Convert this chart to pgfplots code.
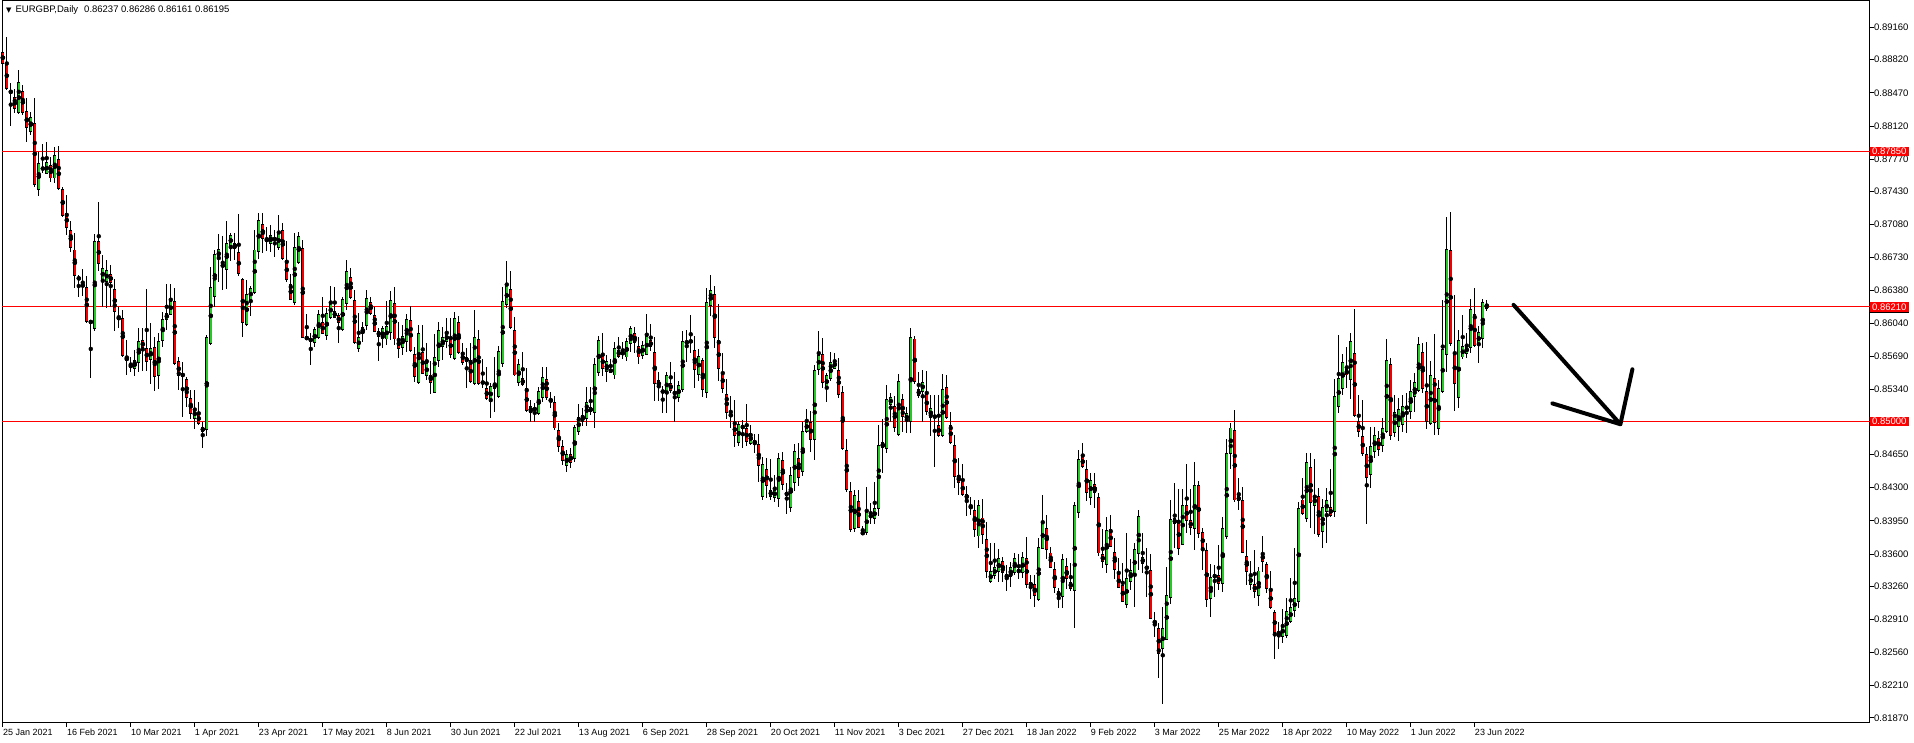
\documentclass[border=0pt]{standalone}
\usepackage{pgfplots}
\pgfplotsset{compat=1.18}
\usepackage{pgfplotstable}
\usepackage{fontspec}
\setmainfont{Liberation Sans}
\newfontfamily\symfont{DejaVu Sans}
\definecolor{bull}{RGB}{40,200,40}
\definecolor{bear}{RGB}{240,0,0}
\definecolor{lvl}{RGB}{255,0,0}

\pgfplotstableread{
i o h l c
0 0.8890 0.8900 0.8868 0.8878
1 0.8878 0.8906 0.8850 0.8852
2 0.8848 0.8857 0.8812 0.8848
3 0.8842 0.8851 0.8826 0.8830
4 0.8826 0.8871 0.8825 0.8858
5 0.8848 0.8855 0.8824 0.8826
6 0.8827 0.8841 0.8795 0.8810
7 0.8806 0.8827 0.8802 0.8821
8 0.8815 0.8841 0.8747 0.8750
9 0.8745 0.8784 0.8738 0.8772
10 0.8766 0.8793 0.8762 0.8768
11 0.8762 0.8795 0.8761 0.8773
12 0.8770 0.8779 0.8753 0.8757
13 0.8757 0.8790 0.8752 0.8781
14 0.8777 0.8791 0.8744 0.8746
15 0.8745 0.8747 0.8716 0.8717
16 0.8720 0.8739 0.8697 0.8705
17 0.8702 0.8712 0.8679 0.8684
18 0.8681 0.8699 0.8641 0.8654
19 0.8652 0.8655 0.8631 0.8650
20 0.8642 0.8661 0.8632 0.8645
21 0.8641 0.8653 0.8604 0.8605
22 0.8605 0.8607 0.8546 0.8605
23 0.8598 0.8698 0.8595 0.8690
24 0.8690 0.8732 0.8659 0.8667
25 0.8650 0.8676 0.8621 0.8661
26 0.8648 0.8670 0.8620 0.8659
27 0.8655 0.8665 0.8621 0.8647
28 0.8639 0.8650 0.8595 0.8616
29 0.8610 0.8621 0.8599 0.8608
30 0.8609 0.8618 0.8568 0.8570
31 0.8564 0.8586 0.8549 0.8568
32 0.8558 0.8568 0.8552 0.8559
33 0.8556 0.8575 0.8548 0.8564
34 0.8562 0.8599 0.8552 0.8584
35 0.8585 0.8599 0.8553 0.8578
36 0.8577 0.8640 0.8553 0.8563
37 0.8565 0.8604 0.8540 0.8577
38 0.8578 0.8589 0.8532 0.8547
39 0.8548 0.8593 0.8534 0.8584
40 0.8585 0.8616 0.8579 0.8608
41 0.8608 0.8645 0.8597 0.8614
42 0.8613 0.8645 0.8612 0.8627
43 0.8627 0.8641 0.8560 0.8561
44 0.8563 0.8568 0.8533 0.8548
45 0.8551 0.8563 0.8505 0.8547
46 0.8544 0.8547 0.8515 0.8525
47 0.8524 0.8533 0.8502 0.8508
48 0.8503 0.8533 0.8492 0.8513
49 0.8508 0.8521 0.8496 0.8498
50 0.8489 0.8499 0.8472 0.8494
51 0.8491 0.8591 0.8485 0.8589
52 0.8582 0.8663 0.8581 0.8641
53 0.8632 0.8681 0.8621 0.8676
54 0.8672 0.8698 0.8647 0.8682
55 0.8665 0.8696 0.8639 0.8664
56 0.8660 0.8712 0.8640 0.8688
57 0.8686 0.8699 0.8669 0.8696
58 0.8688 0.8699 0.8670 0.8683
59 0.8678 0.8719 0.8654 0.8656
60 0.8650 0.8651 0.8589 0.8604
61 0.8602 0.8649 0.8601 0.8634
62 0.8629 0.8643 0.8611 0.8640
63 0.8636 0.8702 0.8635 0.8681
64 0.8679 0.8720 0.8672 0.8712
65 0.8708 0.8720 0.8678 0.8693
66 0.8690 0.8705 0.8680 0.8693
67 0.8688 0.8707 0.8679 0.8696
68 0.8692 0.8702 0.8674 0.8693
69 0.8684 0.8718 0.8681 0.8698
70 0.8702 0.8710 0.8670 0.8672
71 0.8670 0.8690 0.8647 0.8650
72 0.8645 0.8656 0.8628 0.8629
73 0.8626 0.8699 0.8623 0.8684
74 0.8668 0.8700 0.8666 0.8695
75 0.8683 0.8692 0.8588 0.8589
76 0.8587 0.8613 0.8586 0.8589
77 0.8585 0.8593 0.8560 0.8587
78 0.8583 0.8600 0.8579 0.8597
79 0.8589 0.8618 0.8587 0.8613
80 0.8604 0.8631 0.8592 0.8593
81 0.8591 0.8620 0.8586 0.8614
82 0.8610 0.8643 0.8608 0.8625
83 0.8610 0.8642 0.8609 0.8616
84 0.8612 0.8614 0.8583 0.8604
85 0.8597 0.8631 0.8595 0.8629
86 0.8624 0.8670 0.8618 0.8658
87 0.8652 0.8662 0.8629 0.8631
88 0.8628 0.8639 0.8582 0.8583
89 0.8577 0.8614 0.8573 0.8589
90 0.8593 0.8605 0.8584 0.8599
91 0.8601 0.8639 0.8597 0.8630
92 0.8626 0.8631 0.8612 0.8614
93 0.8612 0.8621 0.8594 0.8595
94 0.8595 0.8599 0.8564 0.8590
95 0.8587 0.8601 0.8578 0.8598
96 0.8587 0.8627 0.8581 0.8600
97 0.8594 0.8638 0.8586 0.8628
98 0.8624 0.8642 0.8581 0.8587
99 0.8587 0.8605 0.8567 0.8577
100 0.8578 0.8602 0.8570 0.8590
101 0.8584 0.8613 0.8573 0.8608
102 0.8607 0.8622 0.8573 0.8575
103 0.8571 0.8579 0.8542 0.8547
104 0.8541 0.8602 0.8540 0.8593
105 0.8573 0.8602 0.8550 0.8551
106 0.8548 0.8583 0.8544 0.8561
107 0.8549 0.8564 0.8529 0.8541
108 0.8531 0.8592 0.8530 0.8567
109 0.8564 0.8605 0.8557 0.8596
110 0.8579 0.8600 0.8565 0.8589
111 0.8584 0.8609 0.8578 0.8593
112 0.8589 0.8609 0.8567 0.8571
113 0.8566 0.8616 0.8565 0.8609
114 0.8604 0.8611 0.8571 0.8573
115 0.8573 0.8583 0.8560 0.8562
116 0.8563 0.8577 0.8535 0.8567
117 0.8564 0.8583 0.8541 0.8542
118 0.8540 0.8618 0.8538 0.8589
119 0.8586 0.8597 0.8538 0.8540
120 0.8541 0.8566 0.8535 0.8541
121 0.8535 0.8557 0.8523 0.8524
122 0.8521 0.8541 0.8504 0.8537
123 0.8535 0.8568 0.8510 0.8540
124 0.8526 0.8580 0.8525 0.8574
125 0.8561 0.8642 0.8557 0.8627
126 0.8623 0.8669 0.8620 0.8643
127 0.8639 0.8659 0.8598 0.8599
128 0.8596 0.8610 0.8548 0.8549
129 0.8541 0.8566 0.8537 0.8560
130 0.8545 0.8573 0.8537 0.8539
131 0.8535 0.8556 0.8510 0.8511
132 0.8509 0.8523 0.8499 0.8516
133 0.8514 0.8519 0.8499 0.8512
134 0.8508 0.8536 0.8507 0.8532
135 0.8525 0.8557 0.8521 0.8546
136 0.8544 0.8557 0.8523 0.8525
137 0.8521 0.8531 0.8514 0.8523
138 0.8520 0.8527 0.8491 0.8493
139 0.8490 0.8498 0.8468 0.8473
140 0.8473 0.8480 0.8454 0.8459
141 0.8453 0.8470 0.8447 0.8465
142 0.8465 0.8472 0.8451 0.8457
143 0.8461 0.8496 0.8457 0.8494
144 0.8489 0.8518 0.8486 0.8504
145 0.8500 0.8514 0.8495 0.8506
146 0.8503 0.8536 0.8495 0.8520
147 0.8515 0.8536 0.8507 0.8510
148 0.8509 0.8567 0.8493 0.8560
149 0.8552 0.8590 0.8548 0.8585
150 0.8570 0.8593 0.8548 0.8556
151 0.8553 0.8570 0.8542 0.8563
152 0.8555 0.8566 0.8551 0.8552
153 0.8549 0.8584 0.8545 0.8577
154 0.8575 0.8589 0.8567 0.8569
155 0.8572 0.8584 0.8566 0.8572
156 0.8568 0.8588 0.8564 0.8584
157 0.8582 0.8601 0.8573 0.8598
158 0.8593 0.8600 0.8572 0.8583
159 0.8579 0.8589 0.8561 0.8568
160 0.8570 0.8585 0.8566 0.8580
161 0.8571 0.8613 0.8570 0.8590
162 0.8585 0.8603 0.8574 0.8579
163 0.8573 0.8589 0.8522 0.8540
164 0.8543 0.8552 0.8522 0.8537
165 0.8533 0.8537 0.8509 0.8530
166 0.8529 0.8552 0.8509 0.8548
167 0.8540 0.8563 0.8530 0.8533
168 0.8531 0.8552 0.8499 0.8529
169 0.8525 0.8543 0.8520 0.8538
170 0.8534 0.8595 0.8531 0.8584
171 0.8584 0.8596 0.8563 0.8583
172 0.8584 0.8612 0.8572 0.8585
173 0.8575 0.8590 0.8535 0.8555
174 0.8550 0.8576 0.8543 0.8569
175 0.8564 0.8567 0.8526 0.8534
176 0.8531 0.8641 0.8525 0.8626
177 0.8622 0.8655 0.8611 0.8638
178 0.8634 0.8643 0.8578 0.8589
179 0.8585 0.8624 0.8543 0.8556
180 0.8551 0.8572 0.8530 0.8535
181 0.8528 0.8545 0.8502 0.8509
182 0.8507 0.8527 0.8493 0.8506
183 0.8498 0.8523 0.8473 0.8485
184 0.8478 0.8500 0.8474 0.8497
185 0.8492 0.8501 0.8472 0.8496
186 0.8492 0.8518 0.8474 0.8479
187 0.8477 0.8496 0.8475 0.8487
188 0.8476 0.8487 0.8467 0.8480
189 0.8476 0.8487 0.8436 0.8453
190 0.8421 0.8462 0.8417 0.8454
191 0.8449 0.8461 0.8419 0.8432
192 0.8421 0.8460 0.8417 0.8427
193 0.8420 0.8443 0.8415 0.8427
194 0.8419 0.8467 0.8410 0.8461
195 0.8459 0.8468 0.8428 0.8433
196 0.8425 0.8435 0.8402 0.8422
197 0.8409 0.8452 0.8404 0.8443
198 0.8435 0.8476 0.8427 0.8468
199 0.8461 0.8477 0.8432 0.8441
200 0.8447 0.8499 0.8442 0.8489
201 0.8489 0.8513 0.8488 0.8500
202 0.8499 0.8511 0.8468 0.8481
203 0.8481 0.8560 0.8459 0.8554
204 0.8555 0.8595 0.8549 0.8570
205 0.8571 0.8588 0.8535 0.8541
206 0.8536 0.8551 0.8520 0.8548
207 0.8545 0.8573 0.8543 0.8562
208 0.8556 0.8572 0.8555 0.8564
209 0.8554 0.8567 0.8525 0.8528
210 0.8531 0.8537 0.8470 0.8471
211 0.8469 0.8481 0.8425 0.8428
212 0.8426 0.8436 0.8383 0.8386
213 0.8387 0.8428 0.8383 0.8422
214 0.8415 0.8428 0.8387 0.8388
215 0.8383 0.8390 0.8380 0.8381
216 0.8383 0.8431 0.8380 0.8405
217 0.8399 0.8414 0.8392 0.8401
218 0.8397 0.8436 0.8392 0.8408
219 0.8408 0.8496 0.8400 0.8475
220 0.8472 0.8503 0.8446 0.8478
221 0.8471 0.8538 0.8467 0.8523
222 0.8518 0.8530 0.8499 0.8525
223 0.8516 0.8527 0.8489 0.8494
224 0.8486 0.8550 0.8485 0.8542
225 0.8523 0.8529 0.8489 0.8505
226 0.8501 0.8515 0.8488 0.8508
227 0.8500 0.8599 0.8488 0.8589
228 0.8587 0.8590 0.8540 0.8542
229 0.8534 0.8552 0.8525 0.8527
230 0.8532 0.8554 0.8499 0.8541
231 0.8529 0.8553 0.8507 0.8510
232 0.8504 0.8528 0.8485 0.8514
233 0.8506 0.8528 0.8452 0.8504
234 0.8496 0.8528 0.8484 0.8485
235 0.8485 0.8550 0.8483 0.8534
236 0.8536 0.8549 0.8503 0.8504
237 0.8496 0.8510 0.8476 0.8478
238 0.8475 0.8486 0.8430 0.8442
239 0.8443 0.8461 0.8422 0.8435
240 0.8436 0.8455 0.8421 0.8423
241 0.8423 0.8432 0.8400 0.8418
242 0.8410 0.8420 0.8401 0.8409
243 0.8406 0.8417 0.8378 0.8386
244 0.8379 0.8417 0.8366 0.8411
245 0.8398 0.8418 0.8371 0.8381
246 0.8375 0.8394 0.8335 0.8341
247 0.8331 0.8372 0.8329 0.8341
248 0.8337 0.8372 0.8334 0.8346
249 0.8341 0.8365 0.8330 0.8355
250 0.8352 0.8357 0.8330 0.8340
251 0.8338 0.8348 0.8321 0.8335
252 0.8336 0.8352 0.8325 0.8346
253 0.8340 0.8361 0.8338 0.8355
254 0.8344 0.8360 0.8334 0.8340
255 0.8340 0.8362 0.8335 0.8356
256 0.8355 0.8378 0.8324 0.8328
257 0.8326 0.8338 0.8312 0.8330
258 0.8328 0.8338 0.8304 0.8316
259 0.8312 0.8377 0.8310 0.8367
260 0.8366 0.8422 0.8365 0.8393
261 0.8387 0.8401 0.8355 0.8365
262 0.8361 0.8367 0.8345 0.8346
263 0.8344 0.8352 0.8319 0.8325
264 0.8320 0.8324 0.8303 0.8315
265 0.8315 0.8360 0.8303 0.8354
266 0.8347 0.8356 0.8323 0.8334
267 0.8330 0.8350 0.8321 0.8324
268 0.8321 0.8415 0.8282 0.8411
269 0.8404 0.8470 0.8398 0.8460
270 0.8463 0.8477 0.8451 0.8452
271 0.8449 0.8459 0.8416 0.8425
272 0.8420 0.8446 0.8412 0.8438
273 0.8433 0.8446 0.8409 0.8425
274 0.8420 0.8424 0.8358 0.8361
275 0.8359 0.8386 0.8345 0.8352
276 0.8349 0.8399 0.8340 0.8385
277 0.8386 0.8401 0.8367 0.8368
278 0.8362 0.8377 0.8334 0.8344
279 0.8338 0.8356 0.8324 0.8325
280 0.8327 0.8350 0.8309 0.8310
281 0.8307 0.8382 0.8303 0.8334
282 0.8331 0.8355 0.8322 0.8343
283 0.8337 0.8372 0.8304 0.8365
284 0.8360 0.8406 0.8343 0.8400
285 0.8350 0.8382 0.8340 0.8356
286 0.8346 0.8366 0.8315 0.8345
287 0.8343 0.8360 0.8291 0.8292
288 0.8289 0.8299 0.8272 0.8287
289 0.8281 0.8287 0.8229 0.8255
290 0.8260 0.8304 0.8202 0.8281
291 0.8270 0.8346 0.8269 0.8316
292 0.8314 0.8417 0.8307 0.8396
293 0.8392 0.8435 0.8366 0.8397
294 0.8395 0.8429 0.8359 0.8366
295 0.8370 0.8429 0.8369 0.8411
296 0.8411 0.8455 0.8382 0.8395
297 0.8395 0.8429 0.8380 0.8388
298 0.8387 0.8457 0.8364 0.8432
299 0.8432 0.8437 0.8377 0.8382
300 0.8383 0.8387 0.8343 0.8365
301 0.8364 0.8372 0.8304 0.8312
302 0.8313 0.8349 0.8293 0.8335
303 0.8335 0.8348 0.8315 0.8338
304 0.8337 0.8369 0.8322 0.8329
305 0.8329 0.8399 0.8320 0.8387
306 0.8378 0.8481 0.8376 0.8466
307 0.8466 0.8498 0.8450 0.8493
308 0.8490 0.8512 0.8415 0.8417
309 0.8416 0.8440 0.8406 0.8421
310 0.8416 0.8431 0.8361 0.8362
311 0.8357 0.8375 0.8327 0.8341
312 0.8328 0.8353 0.8322 0.8336
313 0.8328 0.8364 0.8314 0.8320
314 0.8316 0.8346 0.8305 0.8342
315 0.8361 0.8379 0.8341 0.8352
316 0.8349 0.8352 0.8319 0.8324
317 0.8323 0.8342 0.8302 0.8303
318 0.8298 0.8301 0.8249 0.8277
319 0.8277 0.8288 0.8260 0.8276
320 0.8273 0.8302 0.8266 0.8284
321 0.8274 0.8313 0.8271 0.8299
322 0.8289 0.8335 0.8287 0.8303
323 0.8300 0.8366 0.8293 0.8313
324 0.8310 0.8415 0.8303 0.8408
325 0.8417 0.8440 0.8401 0.8403
326 0.8397 0.8467 0.8394 0.8457
327 0.8451 0.8467 0.8387 0.8414
328 0.8411 0.8460 0.8381 0.8421
329 0.8421 0.8430 0.8378 0.8381
330 0.8384 0.8418 0.8366 0.8409
331 0.8405 0.8430 0.8372 0.8416
332 0.8409 0.8450 0.8399 0.8401
333 0.8405 0.8545 0.8399 0.8526
334 0.8516 0.8591 0.8509 0.8545
335 0.8535 0.8571 0.8528 0.8562
336 0.8555 0.8579 0.8535 0.8549
337 0.8544 0.8593 0.8524 0.8584
338 0.8572 0.8619 0.8505 0.8506
339 0.8500 0.8528 0.8484 0.8489
340 0.8484 0.8523 0.8463 0.8466
341 0.8465 0.8473 0.8392 0.8441
342 0.8444 0.8494 0.8430 0.8473
343 0.8468 0.8494 0.8461 0.8485
344 0.8482 0.8490 0.8463 0.8470
345 0.8475 0.8504 0.8468 0.8492
346 0.8489 0.8587 0.8488 0.8564
347 0.8560 0.8567 0.8480 0.8485
348 0.8488 0.8528 0.8484 0.8509
349 0.8495 0.8525 0.8479 0.8513
350 0.8497 0.8528 0.8489 0.8516
351 0.8514 0.8530 0.8488 0.8515
352 0.8510 0.8544 0.8503 0.8532
353 0.8526 0.8551 0.8510 0.8541
354 0.8533 0.8589 0.8531 0.8581
355 0.8573 0.8583 0.8530 0.8535
356 0.8532 0.8584 0.8492 0.8500
357 0.8498 0.8564 0.8496 0.8548
358 0.8545 0.8592 0.8486 0.8499
359 0.8492 0.8544 0.8486 0.8535
360 0.8532 0.8628 0.8530 0.8576
361 0.8571 0.8716 0.8552 0.8682
362 0.8680 0.8721 0.8580 0.8582
363 0.8573 0.8633 0.8511 0.8540
364 0.8525 0.8597 0.8514 0.8585
365 0.8568 0.8612 0.8566 0.8579
366 0.8572 0.8593 0.8567 0.8579
367 0.8578 0.8629 0.8572 0.8618
368 0.8613 0.8641 0.8579 0.8580
369 0.8581 0.8601 0.8562 0.8594
370 0.8588 0.8629 0.8578 0.8626
371 0.86237 0.86286 0.86161 0.86195
}\candles

\begin{document}
\begin{tikzpicture}[x=1pt,y=1pt]
\useasboundingbox (0,-20) rectangle (1914,723);
\begin{axis}[
  at={(2pt,0pt)}, anchor=south west,
  scale only axis, width=1868pt, height=722pt,
  xmin=-0.2, xmax=466.8,
  ymin=0.818151, ymax=0.894394,
  clip=false,
  axis line style={black, line width=1pt},
  tick align=outside,
  major tick length=4pt,
  tick style={black, line width=0.8pt},
  ytick pos=right, yticklabel pos=right,
  xtick pos=bottom,
  ytick={0.8916,0.8882,0.8847,0.8812,0.8777,0.8743,0.8708,0.8673,0.8638,0.8604,0.8569,0.8534,0.8465,0.8430,0.8395,0.8360,0.8326,0.8291,0.8256,0.8221,0.8187},
  yticklabels={0.89160,0.88820,0.88470,0.88120,0.87770,0.87430,0.87080,0.86730,0.86380,0.86040,0.85690,0.85340,0.84650,0.84300,0.83950,0.83600,0.83260,0.82910,0.82560,0.82210,0.81870},
  yticklabel style={anchor=west, xshift=-1pt, font=\fontsize{9.5}{10}\selectfont, inner sep=1pt},
  xtick={0,16,32,48,64,80,96,112,128,144,160,176,192,208,224,240,256,272,288,304,320,336,352,368},
  xticklabels={25 Jan 2021,16 Feb 2021,10 Mar 2021,1 Apr 2021,23 Apr 2021,17 May 2021,8 Jun 2021,30 Jun 2021,22 Jul 2021,13 Aug 2021,6 Sep 2021,28 Sep 2021,20 Oct 2021,11 Nov 2021,3 Dec 2021,27 Dec 2021,18 Jan 2022,9 Feb 2022,3 Mar 2022,25 Mar 2022,18 Apr 2022,10 May 2022,1 Jun 2022,23 Jun 2022},
  xticklabel style={anchor=north west, xshift=-1pt, yshift=-1pt, font=\fontsize{9}{10}\selectfont, inner sep=1pt},
  error bars/error mark=none,
]
% level lines
\addplot[lvl, line width=1pt, no marks] coordinates {(-0.2,0.8785) (466.8,0.8785)};
\addplot[lvl, line width=1pt, no marks] coordinates {(-0.2,0.8621) (466.8,0.8621)};
\addplot[lvl, line width=1pt, no marks] coordinates {(-0.2,0.8500) (466.8,0.8500)};
% wicks
\addplot[only marks, mark=none, error bars/.cd, y dir=both, y explicit, error bar style={black, line width=1pt}]
  table[x=i, y expr={0.5*(\thisrow{h}+\thisrow{l})}, y error expr={0.5*(\thisrow{h}-\thisrow{l})}] {\candles};
% body outlines
\addplot[only marks, mark=none, error bars/.cd, y dir=both, y explicit, error bar style={black, line width=3.3pt}]
  table[x=i, y expr={0.5*(\thisrow{o}+\thisrow{c})}, y error expr={0.5*abs(\thisrow{c}-\thisrow{o})+0.00005}] {\candles};
% bull fill
\addplot[only marks, mark=none, error bars/.cd, y dir=both, y explicit, error bar style={bull, line width=1.6pt}]
  table[x=i, y expr={\thisrow{c}>=\thisrow{o} ? 0.5*(\thisrow{o}+\thisrow{c}) : nan}, y error expr={max(0.5*abs(\thisrow{c}-\thisrow{o})-0.00005,0)}] {\candles};
% bear fill
\addplot[only marks, mark=none, error bars/.cd, y dir=both, y explicit, error bar style={bear, line width=1.6pt}]
  table[x=i, y expr={\thisrow{c}<\thisrow{o} ? 0.5*(\thisrow{o}+\thisrow{c}) : nan}, y error expr={max(0.5*abs(\thisrow{c}-\thisrow{o})-0.00005,0)}] {\candles};
% arrow
\draw[black, line width=4pt, line cap=round, line join=round] (axis cs:377.7,0.8623) -- (axis cs:404.4,0.8497) -- (axis cs:387.4,0.8519);
\draw[black, line width=4pt, line cap=round] (axis cs:404.4,0.8497) -- (axis cs:407.4,0.8555);
% price boxes
\node[fill=black, text=black, anchor=west, inner xsep=2pt, inner ysep=1.5pt, font=\fontsize{9.5}{10}\selectfont] at (axis cs:466.8,0.86195) {0.86195};
\node[fill=lvl, text=white, anchor=west, inner xsep=2pt, inner ysep=1.5pt, font=\fontsize{9.5}{10}\selectfont] at (axis cs:466.8,0.8785) {0.87850};
\node[fill=lvl, text=white, anchor=west, inner xsep=2pt, inner ysep=1.5pt, font=\fontsize{9.5}{10}\selectfont] at (axis cs:466.8,0.8621) {0.86210};
\node[fill=lvl, text=white, anchor=west, inner xsep=2pt, inner ysep=1.5pt, font=\fontsize{9.5}{10}\selectfont] at (axis cs:466.8,0.8500) {0.85000};
\end{axis}
\node[anchor=north west, inner sep=0pt, font=\fontsize{9.5}{11}\selectfont] at (6,718) {{\symfont\fontsize{7}{8}\selectfont ▼}\hspace{4pt}EURGBP,Daily\hspace{6pt}0.86237 0.86286 0.86161 0.86195};
\end{tikzpicture}
\end{document}
